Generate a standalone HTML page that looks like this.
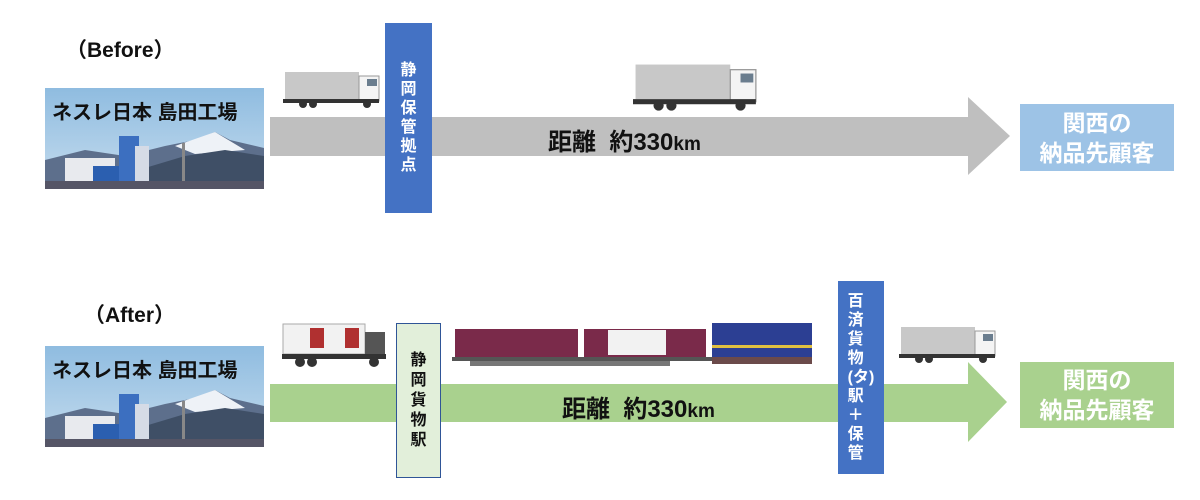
<!DOCTYPE html>
<html><head><meta charset="utf-8"><style>
body{margin:0;width:1200px;height:500px;background:#fff;position:relative;overflow:hidden;font-family:"Liberation Sans","Noto Sans CJK JP",sans-serif;}
.a{position:absolute}
.t{font-weight:bold;color:#111}
.vb{position:absolute;display:flex;flex-direction:column;align-items:center;justify-content:center;color:#fff;font-weight:bold;font-size:16px;line-height:19px}
.dest{position:absolute;color:#fff;font-weight:bold;font-size:23px;line-height:30px;text-align:center;display:flex;align-items:center;justify-content:center}
</style></head><body>
<svg class="a" style="left:0;top:0" width="1200" height="500">
<defs>
<linearGradient id="sky" x1="0" y1="0" x2="0" y2="1"><stop offset="0" stop-color="#8fbce0"/><stop offset="1" stop-color="#c5dcee"/></linearGradient>
<g id="photo">
<rect width="219" height="101" fill="url(#sky)"/>
<polygon points="0,72 40,62 80,68 120,58 150,52 170,44 185,52 219,60 219,101 0,101" fill="#5d6f8c"/>
<polygon points="130,58 170,44 200,62 150,66" fill="#eef2f7"/>
<polygon points="100,80 140,68 180,62 219,68 219,101 100,101" fill="#3f4f66"/>
<rect x="20" y="70" width="50" height="31" fill="#e8eaee"/>
<rect x="48" y="78" width="40" height="23" fill="#2b5fb0"/>
<rect x="74" y="48" width="20" height="53" fill="#3c6fc0"/>
<rect x="90" y="58" width="14" height="43" fill="#d5dbe6"/>
<rect x="137" y="55" width="3" height="40" fill="#888"/>
<rect x="0" y="93" width="219" height="8" fill="#556"/>
</g>
<g id="truck">
<rect x="2" y="2" width="74" height="27" fill="#c8c8c8"/>
<rect x="76" y="6" width="20" height="25" fill="#f4f4f4" stroke="#999"/>
<rect x="84" y="9" width="10" height="7" fill="#6a7d8e"/>
<rect x="0" y="29" width="96" height="4" fill="#333"/>
<circle cx="20" cy="34" r="4" fill="#333"/><circle cx="30" cy="34" r="4" fill="#333"/><circle cx="84" cy="34" r="4" fill="#333"/>
</g>
</defs>
<use href="#photo" x="45" y="88"/>
<polygon points="270,117 968,117 968,97 1010,136 968,175 968,156 270,156" fill="#bfbfbf"/>
<use href="#truck" x="283" y="70"/>
<g transform="translate(633,62) scale(1.28)"><use href="#truck"/></g>
<use href="#photo" x="45" y="346"/>
<polygon points="270,384 968,384 968,362 1007,402 968,442 968,422 270,422" fill="#a9d18e"/>
<use href="#truck" x="899" y="325"/>
<rect x="283" y="324" width="82" height="30" fill="#f2f2f2" stroke="#aaa"/>
<rect x="310" y="328" width="14" height="20" fill="#b03030"/><rect x="345" y="328" width="14" height="20" fill="#b03030"/>
<rect x="365" y="332" width="20" height="24" fill="#555"/>
<rect x="282" y="354" width="104" height="5" fill="#333"/>
<circle cx="300" cy="362" r="5" fill="#333"/><circle cx="312" cy="362" r="5" fill="#333"/><circle cx="374" cy="362" r="5" fill="#333"/>
<rect x="455" y="329" width="123" height="28" fill="#7a2a4a"/>
<rect x="584" y="329" width="122" height="28" fill="#7a2a4a"/>
<rect x="608" y="330" width="58" height="25" fill="#f2f2f2"/>
<rect x="452" y="357" width="260" height="4" fill="#555"/>
<rect x="712" y="323" width="100" height="34" fill="#2c3f93"/>
<rect x="712" y="345" width="100" height="3" fill="#e0c040"/>
<rect x="712" y="357" width="100" height="7" fill="#6b4a4a"/>
<rect x="470" y="361" width="200" height="5" fill="#777"/>
</svg>
<div class="a t" style="left:66px;top:34px;font-size:21px">（Before）</div>
<div class="a t" style="left:84px;top:299px;font-size:21px">（After）</div>
<div class="a t" style="left:52px;top:96px;font-size:20px">ネスレ日本 島田工場</div>
<div class="a t" style="left:52px;top:354px;font-size:20px">ネスレ日本 島田工場</div>
<div class="a t" style="left:548px;top:122px;font-size:24px">距離&nbsp; 約330<span style="font-size:19px">km</span></div>
<div class="a t" style="left:562px;top:389px;font-size:24px">距離&nbsp; 約330<span style="font-size:19px">km</span></div>
<div class="vb" style="left:385px;top:23px;width:47px;height:190px;background:#4472c4;">静<br>岡<br>保<br>管<br>拠<br>点</div>
<div class="vb" style="left:396px;top:323px;width:43px;height:153px;background:#e2efda;border:1px solid #2f5597;color:#111;line-height:20px">静<br>岡<br>貨<br>物<br>駅</div>
<div class="vb" style="left:838px;top:281px;width:46px;height:193px;background:#4472c4;">百<br>済<br>貨<br>物<br>(タ)<br>駅<br>＋<br>保<br>管</div>
<div class="dest" style="left:1020px;top:104px;width:154px;height:67px;background:#9dc3e6">関西の<br>納品先顧客</div>
<div class="dest" style="left:1020px;top:362px;width:154px;height:66px;background:#a9d18e">関西の<br>納品先顧客</div>
</body></html>
